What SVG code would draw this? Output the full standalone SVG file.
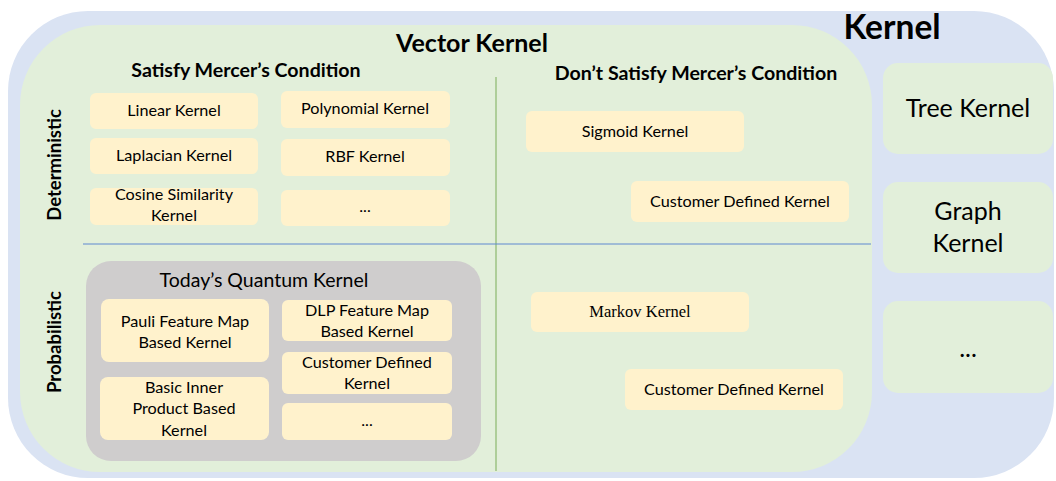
<svg xmlns="http://www.w3.org/2000/svg" width="1056" height="481" viewBox="0 0 1056 481">
<style>
.t{font-family:Lato,"Open Sans","Liberation Sans",sans-serif;fill:#000;text-anchor:middle}
.b{font-weight:bold}
.s{font-size:16.2px}
.y{fill:#FFF2CC}
.g{fill:#E2EFDA}
.r{font-size:25px}
</style>
<rect width="1056" height="481" fill="#fff"/>
<g id="kernel">
<rect x="8" y="11" width="1046" height="467" rx="80" fill="#DAE3F3"/>
<text class="t b" x="892" y="39" font-size="33.5">Kernel</text>
</g>
<g id="vector-kernel">
<rect x="20" y="25" width="852" height="447" rx="80" fill="#E2EFDA"/>
<text class="t b" x="472" y="52" font-size="25">Vector Kernel</text>
<text class="t b" x="246" y="77" font-size="19.6">Satisfy Mercer’s Condition</text>
<text class="t b" x="696" y="80" font-size="19.6">Don’t Satisfy Mercer’s Condition</text>
<text class="t b" font-size="18.5" transform="translate(61,165) rotate(-90)">Deterministic</text>
<text class="t b" font-size="18.5" transform="translate(61,342) rotate(-90)">Probabilistic</text>
</g>
<g id="connectors">
<line x1="496" y1="77" x2="496" y2="471" stroke="#8CB86E" stroke-width="1.2"/>
<line x1="83" y1="244" x2="871" y2="244" stroke="#5F88D0" stroke-width="1"/>
</g>
<g id="linear"><rect class="y" x="90" y="93" width="168" height="36" rx="6"/><text class="t s" x="174" y="116">Linear Kernel</text></g>
<g id="polynomial"><rect class="y" x="281" y="91" width="169" height="37" rx="6"/><text class="t s" x="365" y="114">Polynomial Kernel</text></g>
<g id="laplacian"><rect class="y" x="90" y="138" width="168" height="36" rx="6"/><text class="t s" x="174" y="161">Laplacian Kernel</text></g>
<g id="rbf"><rect class="y" x="281" y="139" width="169" height="37" rx="6"/><text class="t s" x="365" y="162">RBF Kernel</text></g>
<g id="cosine"><rect class="y" x="90" y="188" width="168" height="37" rx="6"/><text class="t s" x="174" y="200">Cosine Similarity</text><text class="t s" x="174" y="221">Kernel</text></g>
<g id="etc1"><rect class="y" x="281" y="190" width="169" height="36" rx="6"/><text class="t s" x="365" y="212">...</text></g>
<g id="sigmoid"><rect class="y" x="526" y="111" width="218" height="41" rx="6"/><text class="t s" x="635" y="137">Sigmoid Kernel</text></g>
<g id="custom1"><rect class="y" x="631" y="181" width="218" height="41" rx="6"/><text class="t s" x="740" y="207">Customer Defined Kernel</text></g>
<g id="markov"><rect class="y" x="531" y="292" width="218" height="40" rx="6"/><text x="640" y="317" font-family="Liberation Serif,serif" font-size="16.5" text-anchor="middle">Markov Kernel</text></g>
<g id="custom2"><rect class="y" x="625" y="369" width="218" height="41" rx="6"/><text class="t s" x="734" y="395">Customer Defined Kernel</text></g>
<g id="quantum">
<rect x="86" y="261" width="395" height="200" rx="25" fill="#CFCDCD"/>
<text class="t" x="264" y="287" font-size="19.5">Today’s Quantum Kernel</text>
</g>
<g id="pauli"><rect class="y" x="101" y="299" width="168" height="63" rx="8"/><text class="t s" x="185" y="327">Pauli Feature Map</text><text class="t s" x="185" y="348">Based Kernel</text></g>
<g id="basic"><rect class="y" x="100" y="377" width="169" height="63" rx="8"/><text class="t s" x="184" y="393">Basic Inner</text><text class="t s" x="184" y="414">Product Based</text><text class="t s" x="184" y="436">Kernel</text></g>
<g id="dlp"><rect class="y" x="282" y="300" width="170" height="41" rx="6"/><text class="t s" x="367" y="316">DLP Feature Map</text><text class="t s" x="367" y="337">Based Kernel</text></g>
<g id="custom-q"><rect class="y" x="282" y="352" width="170" height="42" rx="6"/><text class="t s" x="367" y="368">Customer Defined</text><text class="t s" x="367" y="389">Kernel</text></g>
<g id="etc-q"><rect class="y" x="282" y="403" width="170" height="37" rx="6"/><text class="t s" x="367" y="426">...</text></g>
<g id="tree"><rect class="g" x="883" y="63" width="170" height="91" rx="15"/><text class="t r" x="968" y="117">Tree Kernel</text></g>
<g id="graph"><rect class="g" x="883" y="182" width="170" height="91" rx="15"/><text class="t r" x="968" y="220">Graph</text><text class="t r" x="968" y="252">Kernel</text></g>
<g id="etc-r"><rect class="g" x="883" y="301" width="170" height="92" rx="15"/><text class="t r" x="968" y="357">...</text></g>
</svg>
